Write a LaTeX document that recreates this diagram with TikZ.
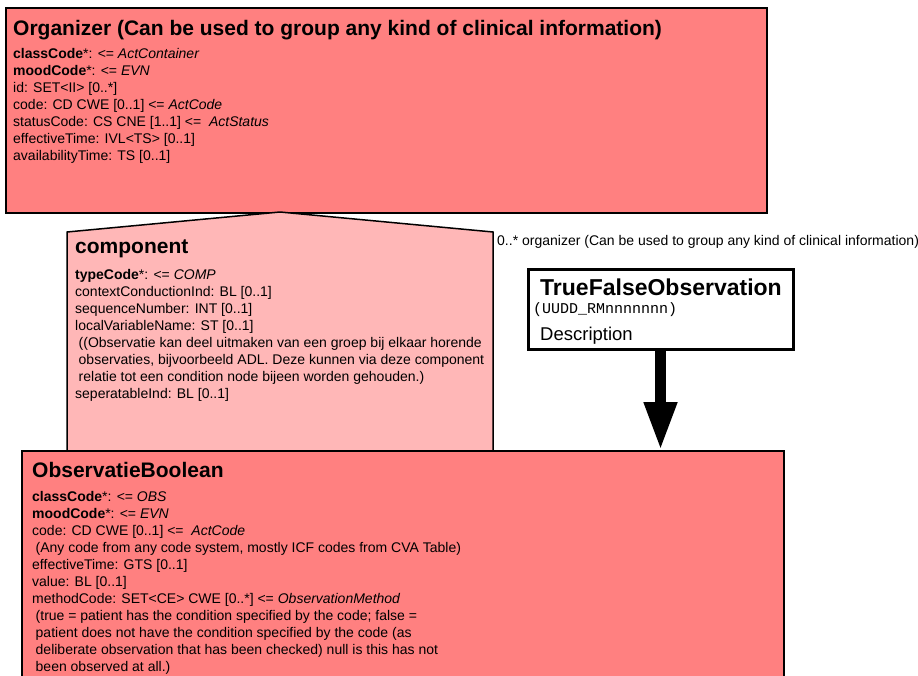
\documentclass[tikz,border=0pt]{standalone}
\usepackage{fontspec}
\setmainfont{Liberation Sans}
\newfontfamily\monofont{Liberation Mono}
\usetikzlibrary{arrows.meta}
\definecolor{actred}{RGB}{255,128,128}
\definecolor{relpink}{RGB}{255,183,183}
\begin{document}
\begin{tikzpicture}[x=1pt,y=-1pt,
  actbox/.style={draw=black, fill=actred, line width=1.5pt, rectangle, inner sep=0pt, anchor=north west},
  relshape/.style={draw=black, fill=relpink, line width=1.5pt, line join=miter},
  titletext/.style={font=\fontsize{21}{25}\selectfont\bfseries, inner sep=0pt, anchor=base west},
  attrtext/.style={font=\fontsize{14}{17}\selectfont, inner sep=0pt, anchor=base west},
  cmetbox/.style={draw=black, fill=white, line width=3pt, rectangle, inner sep=0pt},
  bigarrow/.style={line width=10.5pt, -{Triangle[width=31pt,length=48pt]}}]
\useasboundingbox (0,0) rectangle (918,675);
\clip (0,0) rectangle (918,675);

% Organizer
\node[actbox, minimum width=761pt, minimum height=205pt] (org) at (5,7) {};
\node[titletext] (orgtitle) at (13,35) {Organizer (Can be used to group any kind of clinical information)};
\node[attrtext] (orgattr) at (13,58) {\begin{tabular}[t]{@{}l@{}}
\textbf{classCode}*: <= \textit{ActContainer}\\
\textbf{moodCode}*: <= \textit{EVN}\\
id: SET<II> [0..*]\\
code: CD CWE [0..1] <= \textit{ActCode}\\
statusCode: CS CNE [1..1] <= \ \textit{ActStatus}\\
effectiveTime: IVL<TS> [0..1]\\
availabilityTime: TS [0..1]
\end{tabular}};

% component relationship
\coordinate (apex) at (280,212);
\draw[relshape] (67,452) -- (67,232) -- (apex) -- (493,232) -- (493,452) -- cycle;
\node[titletext] (comptitle) at (75,253) {component};
\node[attrtext] (compattr) at (75,279) {\begin{tabular}[t]{@{}l@{}}
\textbf{typeCode}*: <= \textit{COMP}\\
contextConductionInd: BL [0..1]\\
sequenceNumber: INT [0..1]\\
localVariableName: ST [0..1]\\
\hspace{3.5pt}((Observatie kan deel uitmaken van een groep bij elkaar horende\\
\hspace{3.5pt}observaties, bijvoorbeeld ADL. Deze kunnen via deze component\\
\hspace{3.5pt}relatie tot een condition node bijeen worden gehouden.)\\
seperatableInd: BL [0..1]
\end{tabular}};
\node[attrtext] (orglabel) at (497,245) {0..* organizer (Can be used to group any kind of clinical information)};

% ObservatieBoolean
\node[actbox, minimum width=762pt, minimum height=260pt] (obs) at (21,450) {};
\node[titletext] (obstitle) at (32,477) {ObservatieBoolean};
\node[attrtext] (obsattr) at (32,501) {\begin{tabular}[t]{@{}l@{}}
\textbf{classCode}*: <= \textit{OBS}\\
\textbf{moodCode}*: <= \textit{EVN}\\
code: CD CWE [0..1] <= \ \textit{ActCode}\\
\hspace{3.5pt}(Any code from any code system, mostly ICF codes from CVA Table)\\
effectiveTime: GTS [0..1]\\
value: BL [0..1]\\
methodCode: SET<CE> CWE [0..*] <= \textit{ObservationMethod}\\
\hspace{3.5pt}(true = patient has the condition specified by the code; false =\\
\hspace{3.5pt}patient does not have the condition specified by the code (as\\
\hspace{3.5pt}deliberate observation that has been checked) null is this has not\\
\hspace{3.5pt}been observed at all.)
\end{tabular}};

% TrueFalseObservation CMET
\node[cmetbox, minimum width=265pt, minimum height=80pt] (tfo) at (660.5,309) {};
\node[titletext, font=\fontsize{23}{27}\selectfont\bfseries] (tfotitle) at (540,295) {TrueFalseObservation};
\node[inner sep=0pt, anchor=base west, font=\fontsize{15}{18}\monofont] (tfoid) at (533,313) {(UUDD\_RMnnnnnnn)};
\node[inner sep=0pt, anchor=base west, font=\fontsize{18.5}{22}\selectfont] (tfodesc) at (540,340) {Description};

\draw[bigarrow] (tfo.south) -- (tfo.south |- obs.north);
\end{tikzpicture}
\end{document}
